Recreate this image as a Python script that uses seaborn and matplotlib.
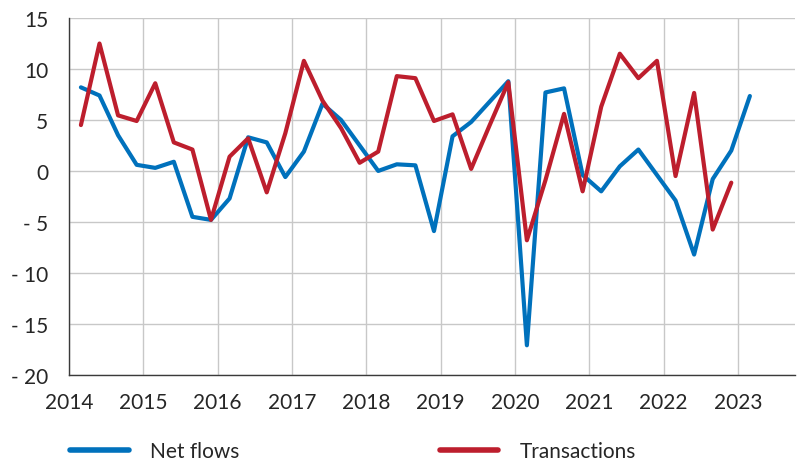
import pandas as pd
import matplotlib
matplotlib.use("Agg")
import matplotlib.pyplot as plt
import seaborn as sns

# quarterly values, 2014Q1 onwards
net_flows = [8.2, 7.4, 3.5, 0.6,
             0.3, 0.9, -4.5, -4.8,
             -2.7, 3.3, 2.8, -0.6,
             1.9, 6.6, 5.0, 2.5,
             0.0, 0.65, 0.55, -5.9,
             3.4, 4.8, 6.8, 8.8,
             -17.1, 7.7, 8.1, -0.4,
             -2.0, 0.45, 2.1, -0.4,
             -2.9, -8.2, -0.8, 2.0,
             7.35]
transactions = [4.5, 12.5, 5.45, 4.9,
                8.6, 2.8, 2.1, -4.8,
                1.4, 3.2, -2.1, 3.7,
                10.8, 6.9, 4.2, 0.8,
                1.9, 9.3, 9.1, 4.9,
                5.55, 0.2, 4.5, 8.7,
                -6.8, -0.9, 5.6, -2.0,
                6.3, 11.5, 9.1, 10.8,
                -0.5, 7.65, -5.75, -1.15]
years = list(range(2014, 2024))
y_ticks = [15, 10, 5, 0, -5, -10, -15, -20]
y_labels = ["15", "10", "5", "0", "- 5", "- 10", "- 15", "- 20"]
series_names = ["Net flows", "Transactions"]
colors = {"Net flows": "#0071BC", "Transactions": "#BD1E2D"}

def quarter_pos(n):
    q = pd.period_range("2014Q1", periods=n, freq="Q")
    return q.year + (q.quarter - 1) / 4 + 0.16

df = pd.concat([
    pd.DataFrame({"x": quarter_pos(len(net_flows)), "value": net_flows, "series": series_names[0]}),
    pd.DataFrame({"x": quarter_pos(len(transactions)), "value": transactions, "series": series_names[1]}),
])

sns.set_style("white")
plt.rcParams["font.family"] = ["Lato", "DejaVu Sans"]

fig = plt.figure(figsize=(7.98, 4.64), dpi=100)
ax = fig.add_axes([0.0865, 0.19, 0.91, 0.769])

sns.lineplot(data=df, x="x", y="value", hue="series", palette=colors,
             linewidth=3, ax=ax, legend=False, sort=False)

ax.set_xlim(2014, 2023.77)
ax.set_ylim(-20, 15)
ax.set_xticks(years)
ax.set_xticklabels([str(y) for y in years])
ax.set_yticks(y_ticks)
ax.set_yticklabels(y_labels)
ax.set_xlabel("")
ax.set_ylabel("")

ax.grid(True, color="#c8c8c8", linewidth=1)
ax.set_axisbelow(True)
for s in ["top", "right"]:
    ax.spines[s].set_visible(False)
for s in ["left", "bottom"]:
    ax.spines[s].set_color("#3a3a3a")
    ax.spines[s].set_linewidth(1)
ax.tick_params(axis="y", direction="in", length=6, width=1, color="#555555",
               labelsize=15, pad=15)
ax.tick_params(axis="x", length=0, labelsize=15, pad=12)

handles = [plt.Line2D([], [], color=colors[n], linewidth=4) for n in series_names]
fig.legend(handles, series_names, loc="center left", bbox_to_anchor=(0.088, 0.025),
           ncol=2, frameon=False, fontsize=15, handlelength=2.8, handletextpad=1.05,
           columnspacing=9.6, borderpad=0, borderaxespad=0)

fig.savefig("out.png", dpi=100)
